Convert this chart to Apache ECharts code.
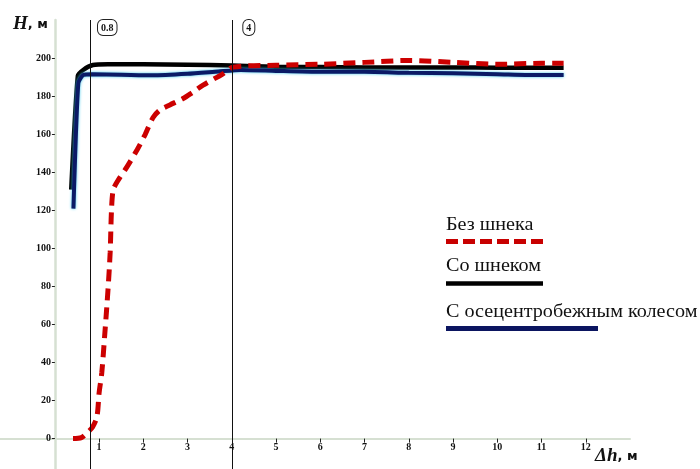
<!DOCTYPE html>
<html>
<head>
<meta charset="utf-8">
<script src="https://cdn.jsdelivr.net/npm/echarts@6/dist/echarts.min.js"></script>
<style>
  html, body { margin: 0; padding: 0; background: #fff; }
  #chart { width: 700px; height: 469px; }
</style>
</head>
<body>
<div id="chart"></div>
<script>
// Без шнека (red dashed)
var xNoAuger = [0.41, 0.6, 0.75, 0.85, 0.95, 1.0, 1.06, 1.13, 1.2, 1.25, 1.28, 1.32, 1.43, 1.63, 1.86, 2.04, 2.22, 2.38, 2.6, 2.9, 3.1, 3.35, 3.8, 4.03, 5, 6, 7, 8, 9, 10, 11, 11.5];
var yNoAuger = [0, 0.5, 3.5, 6, 11.4, 24, 34.5, 55.5, 78, 98, 120, 130.8, 136, 143, 152, 160, 169, 173, 175.6, 179, 182, 186, 192, 195.5, 196.5, 197, 198, 199, 198, 197, 197.5, 197.5];
// Со шнеком (black)
var xAuger = [0.37, 0.52, 0.64, 0.86, 1.2, 2, 3, 4, 5, 6, 7, 8, 9, 10, 11, 11.5];
var yAuger = [131, 191, 194, 196.6, 197, 197, 196.8, 196.3, 195.7, 195.5, 195.3, 195.3, 195.3, 195.2, 195.2, 195.2];
// С осецентробежным колесом (navy)
var xWheel = [0.42, 0.53, 0.64, 0.85, 1.5, 2.2, 3, 3.7, 4.2, 5, 6, 7, 8, 9, 10, 11, 11.5];
var yWheel = [121, 187, 191.3, 191.7, 191.5, 191.2, 192, 193.2, 194, 193.5, 193, 193, 192.5, 192.3, 191.8, 191.3, 191.3];

var xTicks = [1, 2, 3, 4, 5, 6, 7, 8, 9, 10, 11, 12];
var yTicks = [0, 20, 40, 60, 80, 100, 120, 140, 160, 180, 200];
var refLines = [0.8, 4];

function pairs(xs, ys) {
  return xs.map(function (x, i) { return [x, ys[i]]; });
}

var tickFont = { fontFamily: 'Liberation Serif', fontWeight: 'bold', fontSize: 10, color: '#111' };
var axisGreen = '#d6e0d2';
var legendFont = '18px "Liberation Serif"';

var option = {
  animation: false,
  grid: { left: 0, right: 70, top: 20, bottom: 0, containLabel: false, outerBoundsMode: 'none' },
  xAxis: {
    type: 'value',
    min: -1.24,
    max: 13,
    offset: -30.4,
    splitLine: { show: false },
    axisLine: { onZero: false, lineStyle: { color: axisGreen, width: 2 } },
    axisTick: { show: true, customValues: xTicks, length: 4, lineStyle: { color: '#222', width: 1 } },
    axisLabel: Object.assign({ customValues: xTicks, margin: 4 }, tickFont)
  },
  yAxis: {
    type: 'value',
    min: -16,
    max: 220.3,
    offset: -54.9,
    splitLine: { show: false },
    axisLine: { onZero: false, lineStyle: { color: axisGreen, width: 2.5 } },
    axisTick: { show: true, customValues: yTicks, length: 3, lineStyle: { color: '#222', width: 1 } },
    axisLabel: Object.assign({ customValues: yTicks, margin: 4 }, tickFont)
  },
  graphic: [
    { type: 'text', left: 13, top: 15, style: { rich: {
        a: { fontFamily: 'Liberation Serif', fontStyle: 'italic', fontWeight: 'bold', fontSize: 19, fill: '#111' },
        b: { fontFamily: 'DejaVu Sans', fontWeight: 'bold', fontSize: 13, fill: '#111' }
      }, text: '{a|H}{b|, м}' } },
    { type: 'text', left: 595, top: 447, style: { rich: {
        a: { fontFamily: 'Liberation Serif', fontStyle: 'italic', fontWeight: 'bold', fontSize: 19, fill: '#111' },
        b: { fontFamily: 'DejaVu Sans', fontWeight: 'bold', fontSize: 13, fill: '#111' }
      }, text: '{a|Δh}{b|, м}' } },
    // legend
    { type: 'text', x: 446, y: 216, scaleX: 1.12, style: { text: 'Без шнека', font: legendFont, fill: '#111' } },
    { type: 'line', shape: { x1: 446, y1: 241.5, x2: 545, y2: 241.5 }, style: { stroke: '#c80000', lineWidth: 5, lineDash: [12, 5] } },
    { type: 'text', x: 446, y: 257, scaleX: 1.12, style: { text: 'Со шнеком', font: legendFont, fill: '#111' } },
    { type: 'line', shape: { x1: 446, y1: 283.5, x2: 543, y2: 283.5 }, style: { stroke: '#000', lineWidth: 4.5 } },
    { type: 'text', x: 446, y: 303.5, scaleX: 1.12, style: { text: 'С осецентробежным колесом', font: legendFont, fill: '#111' } },
    { type: 'line', shape: { x1: 446, y1: 328.5, x2: 598, y2: 328.5 }, style: { stroke: '#0b1560', lineWidth: 5 } }
  ],
  series: [
    {
      name: 'Со шнеком',
      type: 'line',
      showSymbol: false,
      smooth: 0.2,
      data: pairs(xAuger, yAuger),
      lineStyle: { color: '#000', width: 4.5 },
      z: 2,
      markLine: {
        silent: true,
        symbol: 'none',
        lineStyle: { color: '#111', width: 1, type: 'solid' },
        label: {
          position: 'end',
          distance: 0,
          offset: [17, 15],
          fontFamily: 'Liberation Serif',
          fontWeight: 'bold',
          fontSize: 10,
          color: '#111',
          borderColor: '#222',
          borderWidth: 1,
          borderRadius: 5,
          padding: [3, 3, 2, 3],
          backgroundColor: '#fff',
          formatter: function (p) { return String(p.value); }
        },
        data: refLines.map(function (v) { return { xAxis: v }; })
      }
    },
    {
      name: 'С осецентробежным колесом',
      type: 'line',
      showSymbol: false,
      smooth: 0.2,
      data: pairs(xWheel, yWheel),
      lineStyle: { color: '#0b1a66', width: 4, shadowColor: '#38c8ec', shadowBlur: 3 },
      z: 3
    },
    {
      name: 'Без шнека',
      type: 'line',
      showSymbol: false,
      smooth: 0.3,
      data: pairs(xNoAuger, yNoAuger),
      lineStyle: { color: '#cc0000', width: 5, type: [12, 7] },
      z: 4
    }
  ]
};

var myChart = echarts.init(document.getElementById('chart'));
myChart.setOption(option);
</script>
</body>
</html>
